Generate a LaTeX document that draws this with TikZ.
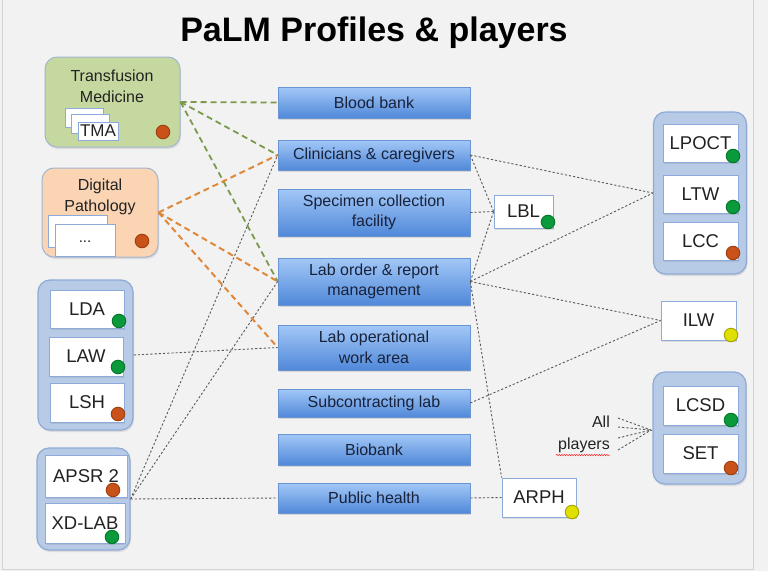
\documentclass[tikz,border=0pt]{standalone}
\usepackage{fontspec}
\setmainfont{Liberation Sans}
\usetikzlibrary{shadows,decorations.pathmorphing}
\definecolor{bgc}{HTML}{F2F2F2}
\definecolor{frame}{HTML}{D4D4D4}
\definecolor{bluetop}{HTML}{A3C8F7}
\definecolor{bluebot}{HTML}{5088D9}
\definecolor{blueedge}{HTML}{6A94D2}
\definecolor{bluetext}{HTML}{18223A}
\definecolor{grpfill}{HTML}{B7CAE6}
\definecolor{grpedge}{HTML}{8FAAD6}
\definecolor{wedge}{HTML}{8EAADB}
\definecolor{tmfill}{HTML}{C4D8A0}
\definecolor{dpfill}{HTML}{FBD4B4}
\definecolor{profedge}{HTML}{A3B6CF}
\definecolor{dotor}{HTML}{C9521A}
\definecolor{dotorr}{HTML}{A0400F}
\definecolor{dotgr}{HTML}{0A9A3C}
\definecolor{dotgrr}{HTML}{06782A}
\definecolor{dotye}{HTML}{E0E000}
\definecolor{dotyer}{HTML}{A8A800}
\definecolor{lgreen}{HTML}{7C9A4C}
\definecolor{lorange}{HTML}{E0883A}
\definecolor{ldot}{HTML}{5A5A5A}
\definecolor{txt}{HTML}{222222}
\begin{document}
\begin{tikzpicture}[x=1pt,y=-1pt,
  bluebox/.style={rectangle, draw=blueedge, line width=0.6pt, top color=bluetop, bottom color=bluebot,
    text=bluetext, align=center, inner sep=0pt, minimum width=192pt,
    font=\fontsize{16}{20.5}\selectfont,
    drop shadow={opacity=0.25, shadow xshift=1pt, shadow yshift=-2pt}},
  wbox/.style={rectangle, draw=wedge, line width=0.8pt, fill=white, text=txt, inner sep=0pt,
    font=\fontsize{18.5}{20}\selectfont,
    drop shadow={opacity=0.2, shadow xshift=1pt, shadow yshift=-1.5pt}},
  grp/.style={rectangle, rounded corners=12pt, draw=grpedge, line width=1.2pt, fill=grpfill,
    drop shadow={opacity=0.2, shadow xshift=1pt, shadow yshift=-2pt}},
  prof/.style={rectangle, rounded corners=12pt, draw=profedge, line width=1pt,
    drop shadow={opacity=0.2, shadow xshift=1pt, shadow yshift=-2pt}},
  card/.style={rectangle, draw=wedge, line width=0.7pt, fill=white, text=txt, inner sep=0pt,
    font=\fontsize{17}{18}\selectfont},
  dotx/.style={circle, inner sep=0pt, minimum size=13.5pt, line width=1pt},
  odot/.style={dotx, fill=dotor, draw=dotorr},
  gdot/.style={dotx, fill=dotgr, draw=dotgrr},
  ydot/.style={dotx, fill=dotye, draw=dotyer},
  lab/.style={text=txt, align=center, inner sep=0pt, font=\fontsize{16}{21}\selectfont},
  gline/.style={draw=lgreen, line width=1.8pt, dash pattern=on 6pt off 4pt},
  oline/.style={draw=lorange, line width=2pt, dash pattern=on 6pt off 4pt},
  kline/.style={draw=ldot, line width=0.9pt, dash pattern=on 2.2pt off 2pt}
]
\useasboundingbox (0,0) rectangle (768,571);
\fill[bgc] (0,0) rectangle (768,571);
\draw[frame, line width=1pt] (2,0) -- (2,569) -- (753,569) -- (753,0);

% title
\node[font=\bfseries\fontsize{34}{36}\selectfont, text=black, inner sep=0pt] (title) at (374,33) {PaLM Profiles \& players};

% profiles
\node[prof, fill=tmfill, minimum width=135pt, minimum height=90pt] (tm) at (112.5,102) {};
\node[lab] (tmt) at (112,86) {Transfusion\\Medicine};
\node[card, minimum width=38pt, minimum height=19pt] (tmc1) at (84,117.5) {};
\node[card, minimum width=38pt, minimum height=19pt] (tmc2) at (90,123.5) {};
\node[card, minimum width=40pt, minimum height=18pt] (tma) at (98,131) {TMA};
\node[odot] (tmd) at (163,132) {};

\node[prof, fill=dpfill, minimum width=116pt, minimum height=89pt] (dp) at (100,212.5) {};
\node[lab] (dpt) at (100,197) {Digital\\Pathology};
\node[card, minimum width=59pt, minimum height=32pt] (dpc1) at (77.5,231) {};
\node[card, minimum width=60pt, minimum height=32pt, font=\fontsize{15}{16}\selectfont] (dpc2) at (85,240) {\raisebox{-4pt}{...}};
\node[odot] (dpd) at (142,241) {};

% left groups
\node[grp, minimum width=95pt, minimum height=150pt] (ldag) at (85.5,355) {};
\node[wbox, minimum width=74pt, minimum height=38pt] (lda) at (87,309) {LDA};
\node[wbox, minimum width=74pt, minimum height=39pt] (law) at (86,356.5) {LAW};
\node[wbox, minimum width=74pt, minimum height=39pt] (lsh) at (87,402.5) {LSH};
\node[gdot] (ldad) at (119,321) {};
\node[gdot] (lawd) at (118,367) {};
\node[odot] (lshd) at (118,414) {};

\node[grp, minimum width=93pt, minimum height=102pt] (apg) at (83.5,499) {};
\node[wbox, minimum width=82pt, minimum height=42pt] (apsr) at (86,476) {APSR 2};
\node[wbox, minimum width=80pt, minimum height=40pt] (xd) at (85,523) {XD-LAB};
\node[odot] (apsrd) at (113,490) {};
\node[gdot] (xdd) at (112,537) {};

% central boxes
\node[bluebox, minimum height=31pt] (bb) at (374,102.5) {Blood bank};
\node[bluebox, minimum height=30pt] (cl) at (374,155) {Clinicians \& caregivers};
\node[bluebox, minimum height=47pt] (sp) at (374,212.5) {Specimen collection\\facility};
\node[bluebox, minimum height=47pt] (lo) at (374,281.5) {Lab order \& report\\management};
\node[bluebox, minimum height=45pt] (lw) at (374,347.5) {Lab operational\\work area};
\node[bluebox, minimum height=28pt] (sc) at (374,403) {Subcontracting lab};
\node[bluebox, minimum height=31pt] (bio) at (374,449.5) {Biobank};
\node[bluebox, minimum height=30pt] (ph) at (374,498) {Public health};

% middle players
\node[wbox, minimum width=59pt, minimum height=33pt] (lbl) at (523.5,211.5) {LBL};
\node[gdot] (lbld) at (548,222) {};
\node[wbox, minimum width=74pt, minimum height=39pt] (arph) at (539,497.5) {ARPH};
\node[ydot] (arphd) at (572,512) {};

% right groups
\node[grp, minimum width=93pt, minimum height=162pt] (lpg) at (700,193) {};
\node[wbox, minimum width=75pt, minimum height=38pt] (lpoct) at (700.5,143) {LPOCT};
\node[wbox, minimum width=75pt, minimum height=38pt] (ltw) at (700.5,194) {LTW};
\node[wbox, minimum width=75pt, minimum height=38pt] (lcc) at (700.5,241) {LCC};
\node[gdot] (lpoctd) at (733,156) {};
\node[gdot] (ltwd) at (733,207) {};
\node[odot] (lccd) at (733,253) {};

\node[wbox, minimum width=75pt, minimum height=39pt] (ilw) at (698.5,320.5) {ILW};
\node[ydot] (ilwd) at (731,335) {};

\node[grp, minimum width=93pt, minimum height=112pt] (lcg) at (699.5,428) {};
\node[wbox, minimum width=75pt, minimum height=39pt] (lcsd) at (700.5,405.5) {LCSD};
\node[wbox, minimum width=75pt, minimum height=39pt] (set) at (700.5,453.5) {SET};
\node[gdot] (lcsdd) at (731,420) {};
\node[odot] (setd) at (731,468) {};

% all players
\node[lab, align=right, anchor=east, font=\fontsize{16}{22}\selectfont] (ap) at (610,434) {All\\players};
\draw[red!85, line width=0.5pt, decorate, decoration={snake, amplitude=0.7pt, segment length=2.5pt}] (556,455) -- (610,455);
\coordinate (ap1) at (618,418);
\coordinate (ap2) at (618,427);
\coordinate (ap3) at (618,438);
\coordinate (ap4) at (618,450);
\coordinate (apc) at (651,430);
\foreach \c in {ap1,ap2,ap3,ap4} \draw[kline] (\c) -- (apc);
\draw[kline] (apc) -- (lcg.west |- apc);

% green connectors
\draw[gline] (tm.east) -- (bb.west);
\draw[gline] (tm.east) -- (cl.west);
\draw[gline] (tm.east) -- (lo.west);
% orange connectors
\draw[oline] (dp.east) -- (cl.west);
\draw[oline] (dp.east) -- (lo.west);
\draw[oline] (dp.east) -- (lw.west);
% dotted connectors
\draw[kline] (ldag.east) -- (lw.west);
\draw[kline] (apg.east) -- (ph.west);
\draw[kline] (apg.east) -- (cl.west);
\draw[kline] (apg.east) -- (lo.west);
\draw[kline] (cl.east) -- (lbl.west);
\draw[kline] (cl.east) -- (lpg.west);
\draw[kline] (sp.east) -- (lbl.west);
\draw[kline] (lo.east) -- (lbl.west);
\draw[kline] (lo.east) -- (lpg.west);
\draw[kline] (lo.east) -- (ilw.west);
\draw[kline] (lo.east) -- (arph.north west);
\draw[kline] (sc.east) -- (ilw.west);
\draw[kline] (ph.east) -- (arph.west);
\end{tikzpicture}
\end{document}
